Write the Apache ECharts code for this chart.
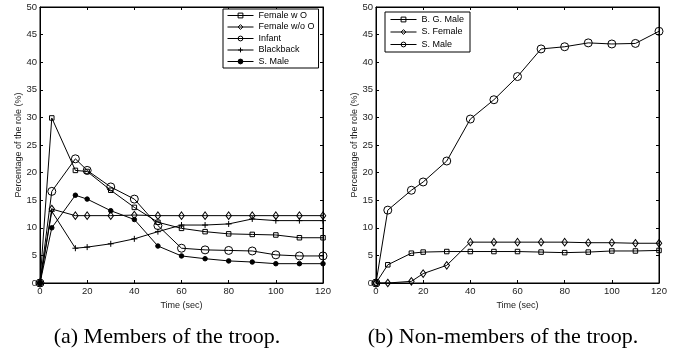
<!DOCTYPE html>
<html>
<head>
<meta charset="utf-8">
<script src="https://cdn.jsdelivr.net/npm/echarts@6/dist/echarts.min.js"></script>
<style>
html,body{margin:0;padding:0;background:#fff;}
#chart{width:688px;height:352px;}
</style>
</head>
<body>
<div id="chart"></div>
<script>
// ---- data ----
const timeSec = [0, 5, 15, 20, 30, 40, 50, 60, 70, 80, 90, 100, 110, 120];
const xTicks = [0, 20, 40, 60, 80, 100, 120];
const yTicks = [0, 5, 10, 15, 20, 25, 30, 35, 40, 45, 50];

// (a) members of the troop
const membersNames = ['Female w O', 'Female w/o O', 'Infant', 'Blackback', 'S. Male'];
const femaleWithO    = [0, 29.9, 20.4, 20.2, 16.8, 13.7, 11.0, 9.9, 9.3, 8.9, 8.8, 8.7, 8.2, 8.2];
const femaleWithoutO = [0, 13.4, 12.2, 12.2, 12.2, 12.3, 12.2, 12.2, 12.2, 12.2, 12.2, 12.2, 12.2, 12.2];
const infant         = [0, 16.6, 22.5, 20.4, 17.4, 15.2, 10.4, 6.3, 6.0, 5.9, 5.8, 5.1, 4.9, 4.9];
const blackback      = [0, 13.0, 6.3, 6.5, 7.1, 8.0, 9.3, 10.5, 10.5, 10.7, 11.6, 11.3, 11.3, 11.3];
const sMaleMember    = [0, 10.0, 15.9, 15.2, 13.1, 11.5, 6.7, 4.9, 4.4, 4.0, 3.8, 3.5, 3.5, 3.5];

// (b) non-members of the troop
const nonMembersNames = ['B. G. Male', 'S. Female', 'S. Male'];
const bgMale         = [0, 3.3, 5.4, 5.6, 5.7, 5.7, 5.7, 5.7, 5.6, 5.5, 5.6, 5.8, 5.8, 5.9];
const sFemale        = [0, 0, 0.3, 1.7, 3.2, 7.4, 7.4, 7.4, 7.4, 7.4, 7.3, 7.3, 7.2, 7.2];
const sMaleNonMember = [0, 13.2, 16.8, 18.3, 22.1, 29.7, 33.2, 37.4, 42.4, 42.8, 43.5, 43.3, 43.4, 45.6];

const captionA = '(a) Members of the troop.';
const captionB = '(b) Non-members of the troop.';
const xName = 'Time (sec)';
const yName = 'Percentage of the role (%)';

// ---- styling helpers ----
const SANS = 'Liberation Sans, Arial, Helvetica, sans-serif';
const SERIF = 'Liberation Serif, Times New Roman, serif';
const NONE = 'rgba(0,0,0,0)';
const markers = {
  square:  { symbol: 'rect', size: 4.5, fill: NONE },
  diamond: { symbol: 'diamond', size: [5.5, 7.5], fill: NONE },
  circle:  { symbol: 'circle', size: 8, fill: NONE },
  plus:    { symbol: 'path://M0,5L10,5M5,0L5,10', size: 6, fill: NONE },
  dot:     { symbol: 'circle', size: 4.5, fill: '#000' }
};
const legendId = (name, part) => part === 'b' ? name + ' (b)' : name;

function pairs(vals) { return timeSec.map((t, i) => [t, vals[i]]); }

function mkSeries(name, vals, m, xi, yi) {
  return {
    type: 'line', name: name, data: pairs(vals),
    xAxisIndex: xi, yAxisIndex: yi,
    symbol: m.symbol, symbolSize: m.size, showSymbol: true,
    lineStyle: { color: '#000', width: 1 },
    itemStyle: { color: m.fill, borderColor: '#000', borderWidth: 1 },
    emphasis: { disabled: true },
    z: 2
  };
}

function xAxisCfg(grid, pos) {
  const bottom = pos === 'bottom';
  return {
    type: 'value', gridIndex: grid, position: pos,
    min: xTicks[0], max: xTicks[xTicks.length - 1], interval: xTicks[1] - xTicks[0],
    name: bottom ? xName : '', nameLocation: 'middle', nameGap: 15,
    nameTextStyle: { fontFamily: SANS, fontSize: 9, color: '#222' },
    axisLine: { show: true, onZero: false, lineStyle: { color: '#000', width: 1 } },
    axisTick: { show: true, inside: true, length: 3, lineStyle: { color: '#000' } },
    axisLabel: { show: bottom, margin: 3, fontFamily: SANS, fontSize: 9.5, color: '#222' },
    splitLine: { show: false }
  };
}
function yAxisCfg(grid, pos) {
  const left = pos === 'left';
  return {
    type: 'value', gridIndex: grid, position: pos,
    min: yTicks[0], max: yTicks[yTicks.length - 1], interval: yTicks[1] - yTicks[0],
    name: left ? yName : '', nameLocation: 'middle', nameGap: 17,
    nameTextStyle: { fontFamily: SANS, fontSize: 9, color: '#222' },
    axisLine: { show: true, onZero: false, lineStyle: { color: '#000', width: 1 } },
    axisTick: { show: true, inside: true, length: 3, lineStyle: { color: '#000' } },
    axisLabel: { show: left, margin: 3, fontFamily: SANS, fontSize: 9.5, color: '#222' },
    splitLine: { show: false }
  };
}

const membersData = [femaleWithO, femaleWithoutO, infant, blackback, sMaleMember];
const membersMarkers = [markers.square, markers.diamond, markers.circle, markers.plus, markers.dot];
const nonMembersData = [bgMale, sFemale, sMaleNonMember];
const nonMembersMarkers = [markers.square, markers.diamond, markers.circle];

const series = [];
membersNames.forEach((n, i) => series.push(mkSeries(legendId(n, 'a'), membersData[i], membersMarkers[i], 0, 0)));
nonMembersNames.forEach((n, i) => series.push(mkSeries(legendId(n, 'b'), nonMembersData[i], nonMembersMarkers[i], 2, 2)));

function legendCfg(names, part, markerList, pos) {
  return Object.assign({
    orient: 'vertical',
    data: names.map((n, i) => ({
      name: legendId(n, part),
      itemStyle: { color: markerList[i].fill, borderColor: '#000', borderWidth: 1 },
      lineStyle: { color: '#000', width: 1 }
    })),
    formatter: (name) => name.replace(' (b)', ''),
    itemWidth: 26, itemHeight: 6, itemGap: 2.5,
    selectedMode: false,
    borderColor: '#000', borderWidth: 1, borderRadius: 0,
    backgroundColor: '#fff',
    textStyle: { fontFamily: SANS, fontSize: 9, color: '#000', padding: 0 },
    z: 10
  }, pos);
}

const chart = echarts.init(document.getElementById('chart'), null, { renderer: 'canvas' });
chart.setOption({
  animation: false,
  backgroundColor: '#fff',
  grid: [
    { left: 40, right: 365, top: 7, bottom: 69, show: true, borderColor: '#000', borderWidth: 1, backgroundColor: NONE },
    { left: 376, right: 29, top: 7, bottom: 69, show: true, borderColor: '#000', borderWidth: 1, backgroundColor: NONE }
  ],
  xAxis: [xAxisCfg(0, 'bottom'), xAxisCfg(0, 'top'), xAxisCfg(1, 'bottom'), xAxisCfg(1, 'top')],
  yAxis: [yAxisCfg(0, 'left'), yAxisCfg(0, 'right'), yAxisCfg(1, 'left'), yAxisCfg(1, 'right')],
  legend: [
    legendCfg(membersNames, 'a', membersMarkers, { left: 223, top: 9, padding: [2, 4, 2, 4] }),
    legendCfg(nonMembersNames, 'b', nonMembersMarkers, { left: 385, top: 12, padding: [3, 6, 3, 5], itemGap: 3.5 })
  ],
  series: series,
  graphic: [
    { type: 'text', x: 167, y: 337, style: { text: captionA, font: '22px ' + SERIF, fill: '#000', textAlign: 'center', textVerticalAlign: 'middle' } },
    { type: 'text', x: 503, y: 337, style: { text: captionB, font: '22px ' + SERIF, fill: '#000', textAlign: 'center', textVerticalAlign: 'middle' } }
  ]
});
</script>
</body>
</html>
